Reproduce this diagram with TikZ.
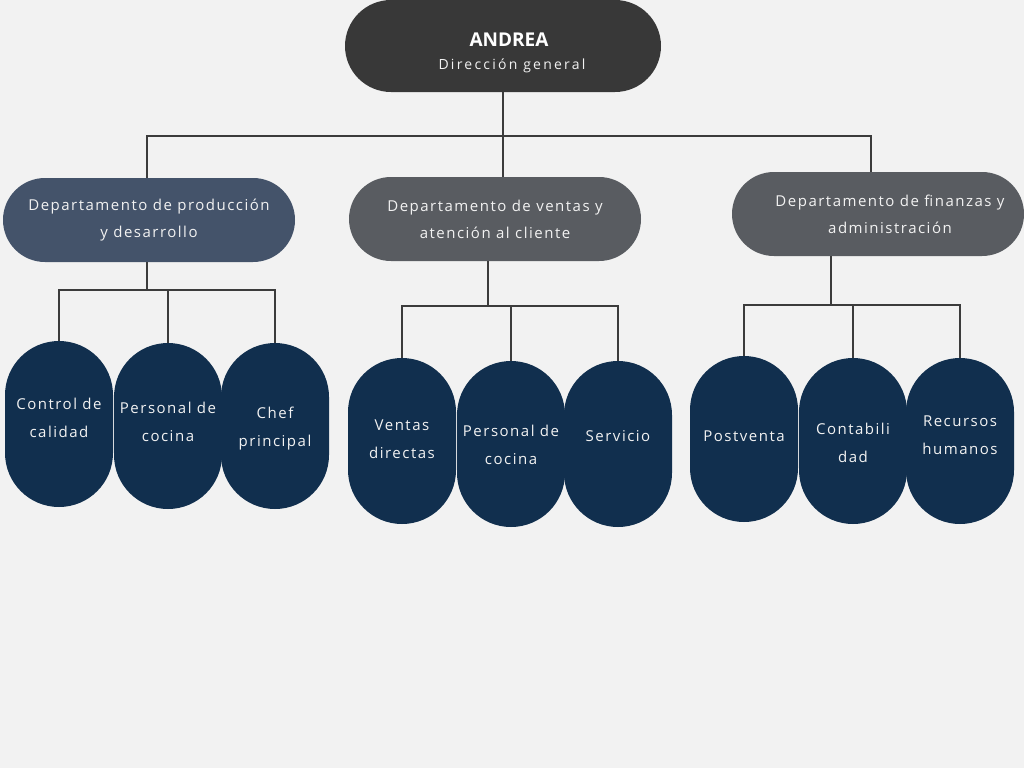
\documentclass[tikz,border=0pt]{standalone}
\usepackage{fontspec}
\setmainfont{Open Sans}
\newfontfamily\spacedfont[LetterSpace=10]{Open Sans}
\newfontfamily\widefont[LetterSpace=16]{Open Sans}
\definecolor{bggray}{HTML}{F2F2F2}
\definecolor{bossgray}{HTML}{383838}
\definecolor{slateblue}{HTML}{44536A}
\definecolor{deptgray}{HTML}{595C61}
\definecolor{navy}{HTML}{112F4E}
\definecolor{linegray}{HTML}{3C3C3C}

\begin{document}
\begin{tikzpicture}[x=1pt,y=-1pt,
  conn/.style={draw=linegray,line width=2pt},
  boss/.style={fill=bossgray,rounded corners=46,minimum width=316,minimum height=92,inner sep=0},
  dept/.style={fill=#1,rounded corners=42,minimum width=292,minimum height=84,inner sep=0},
  depttxt/.style={text=bggray,align=center,font=\spacedfont\fontsize{15}{27}\selectfont},
  leaf/.style n args={2}{fill=navy,rounded corners=54,minimum width=108,minimum height=166,inner sep=0,
    label={[leaftxt,yshift=#2]center:{#1}}},
  leaftxt/.style={text=bggray,align=center,font=\spacedfont\fontsize{15}{28}\selectfont}]
\useasboundingbox (0,0) rectangle (1024,768);
\fill[bggray] (0,0) rectangle (1024,768);
% Head of the chart
\node[boss] (andrea) at (503,46) {};
\node[text=white,font=\bfseries\fontsize{19}{22}\selectfont] (andreaname) at (509,40) {ANDREA};
\node[text=bggray,font=\widefont\fontsize{14}{17}\selectfont] (andreasub) at (512,66) {Dirección general};
% Departments
\node[dept=slateblue,depttxt] (dprod) at (149,220) {Departamento de producción\\y desarrollo};
\node[dept=deptgray,depttxt] (dventas) at (495,219) {Departamento de ventas y\\atención al cliente};
\node[dept=deptgray,label={[depttxt,xshift=12]center:{Departamento de finanzas y\\administración}}] (dfin) at (878,214) {};
% Staff under each department
\node[leaf={Control de\\calidad}{6}] (ctrl) at (59,424) {};
\node[leaf={Personal de\\cocina}{4}] (cocina) at (168,426) {};
\node[leaf={Chef\\principal}{-3}] (chef) at (275,426) {};
\node[leaf={Ventas\\directas}{2}] (vdir) at (402,441) {};
\node[leaf={Personal de\\cocina}{-1}] (cocinab) at (511,444) {};
\node[leaf={Servicio}{8}] (serv) at (618,444) {};
\node[leaf={Postventa}{3}] (postv) at (744,439) {};
\node[leaf={Contabili\\dad}{-2}] (conta) at (853,441) {};
\node[leaf={Recursos\\humanos}{6}] (rrhh) at (960,441) {};
% Lines from the head to the departments
\draw[conn] (andrea.south) -- ([xshift=8]dventas.north);
\draw[conn] ([xshift=-2]dprod.north) |- (andrea.south |- 0,136) -| ([xshift=-7]dfin.north);
% Lines from each department to its staff
\draw[conn] ([xshift=-2]dprod.south) -- ++(0,28) coordinate (prodbar);
\draw[conn] (ctrl.north) |- (prodbar) -| (chef.north);
\draw[conn] (cocina.north) -- (cocina.north |- prodbar);
\draw[conn] ([xshift=-7]dventas.south) -- ++(0,45) coordinate (ventbar);
\draw[conn] (vdir.north) |- (ventbar) -| (serv.north);
\draw[conn] (cocinab.north) -- (cocinab.north |- ventbar);
\draw[conn] ([xshift=-47]dfin.south) -- ++(0,49) coordinate (finbar);
\draw[conn] (postv.north) |- (finbar) -| (rrhh.north);
\draw[conn] (conta.north) -- (conta.north |- finbar);
\end{tikzpicture}
\end{document}
